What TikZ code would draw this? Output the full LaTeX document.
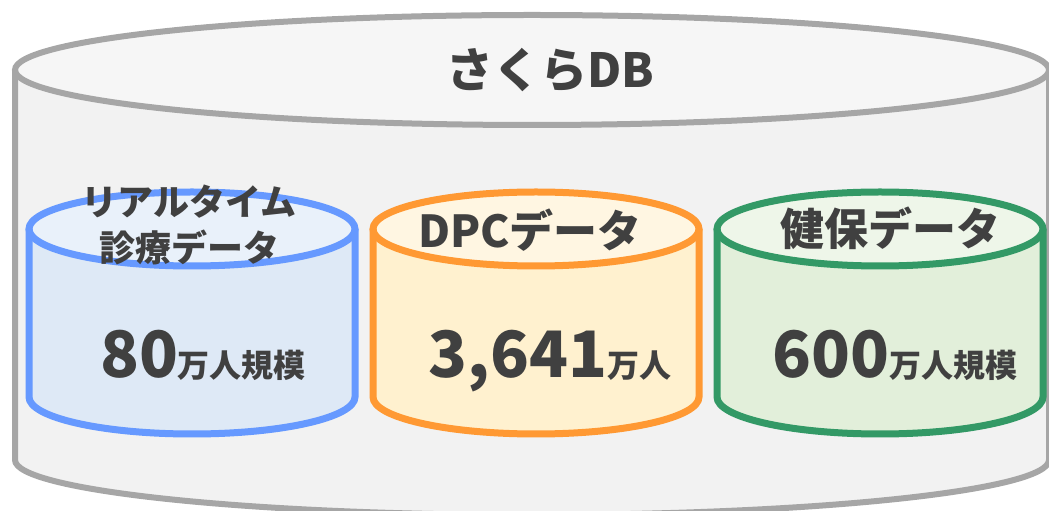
\documentclass[tikz,border=0pt]{standalone}
\usepackage{fontspec}
\setmainfont{Noto Sans CJK JP}
\usepackage{xcolor}
\definecolor{textgray}{HTML}{404040}
\definecolor{linegray}{HTML}{A6A6A6}
\definecolor{topgray}{HTML}{F6F6F6}
\definecolor{bodygray}{HTML}{F2F2F2}
\definecolor{lineblue}{HTML}{6699FF}
\definecolor{topblue}{HTML}{E9F1FA}
\definecolor{bodyblue}{HTML}{DEE9F6}
\definecolor{lineorange}{HTML}{FF9933}
\definecolor{toporange}{HTML}{FFF6E2}
\definecolor{bodyorange}{HTML}{FFF1CF}
\definecolor{linegreen}{HTML}{339966}
\definecolor{topgreen}{HTML}{EEF6E9}
\definecolor{bodygreen}{HTML}{E2EFDA}
\def\rx{163}
\def\ry{37}
\def\bigsize{\fontsize{64}{64}\selectfont}
\def\unitsize{\fontsize{32}{32}\selectfont}

\begin{document}
\begin{tikzpicture}[x=1pt,y=1pt]
    \tikzstyle{db title}=[text=textgray, font=\bfseries\fontsize{47}{47}\selectfont, inner sep=0pt]
    \tikzstyle{db label}=[text=textgray, font=\bfseries\fontsize{44}{46}\selectfont, inner sep=0pt, align=center]
    \tikzstyle{db count}=[text=textgray, font=\bfseries, inner sep=0pt, anchor=base]

    \useasboundingbox (0,0) rectangle (1049,511);

    % Outer database (partly outside the frame)
    \fill[bodygray] (15,441) -- (15,51) arc (180:360:517pt and 55pt) -- (1049,441) -- cycle;
    \fill[topgray] (532,441) ellipse [x radius=517pt, y radius=55pt];
    \draw[linegray, line width=6pt] (15,441) -- (15,51) arc (180:360:517pt and 55pt) -- (1049,441);
    \draw[linegray, line width=6pt] (532,441) ellipse [x radius=517pt, y radius=55pt];

    % Three inner databases
    \foreach \cx/\col in {192/blue, 536/orange, 880/green}
    {
        \fill[body\col] (\cx-\rx,282) -- (\cx-\rx,114) arc (180:360:\rx pt and \ry pt) -- (\cx+\rx,282) -- cycle;
        \fill[top\col] (\cx,282) ellipse [x radius=\rx pt, y radius=\ry pt];
        \draw[line\col, line width=7pt] (\cx-\rx,282) -- (\cx-\rx,114) arc (180:360:\rx pt and \ry pt) -- (\cx+\rx,282);
        \draw[line\col, line width=7pt] (\cx,282) ellipse [x radius=\rx pt, y radius=\ry pt];
    }

    % Labels
    \node[db title] (sakura) at (550,441) {さくらDB};

    \node[db label, font=\bfseries\fontsize{36}{46}\selectfont] (realtime) at (189,286) {リアルタイム\\診療データ};
    \node[db label] (dpc) at (530,281) {DPCデータ};
    \node[db label] (kenpo) at (890,283) {健保データ};

    \node[db count] (realtime-n) at (203,133) {\bigsize 80\unitsize 万人規模};
    \node[db count] (dpc-n) at (550,133) {\bigsize 3,641\unitsize 万人};
    \node[db count] (kenpo-n) at (895,133) {\bigsize 600\unitsize 万人規模};
\end{tikzpicture}
\end{document}
